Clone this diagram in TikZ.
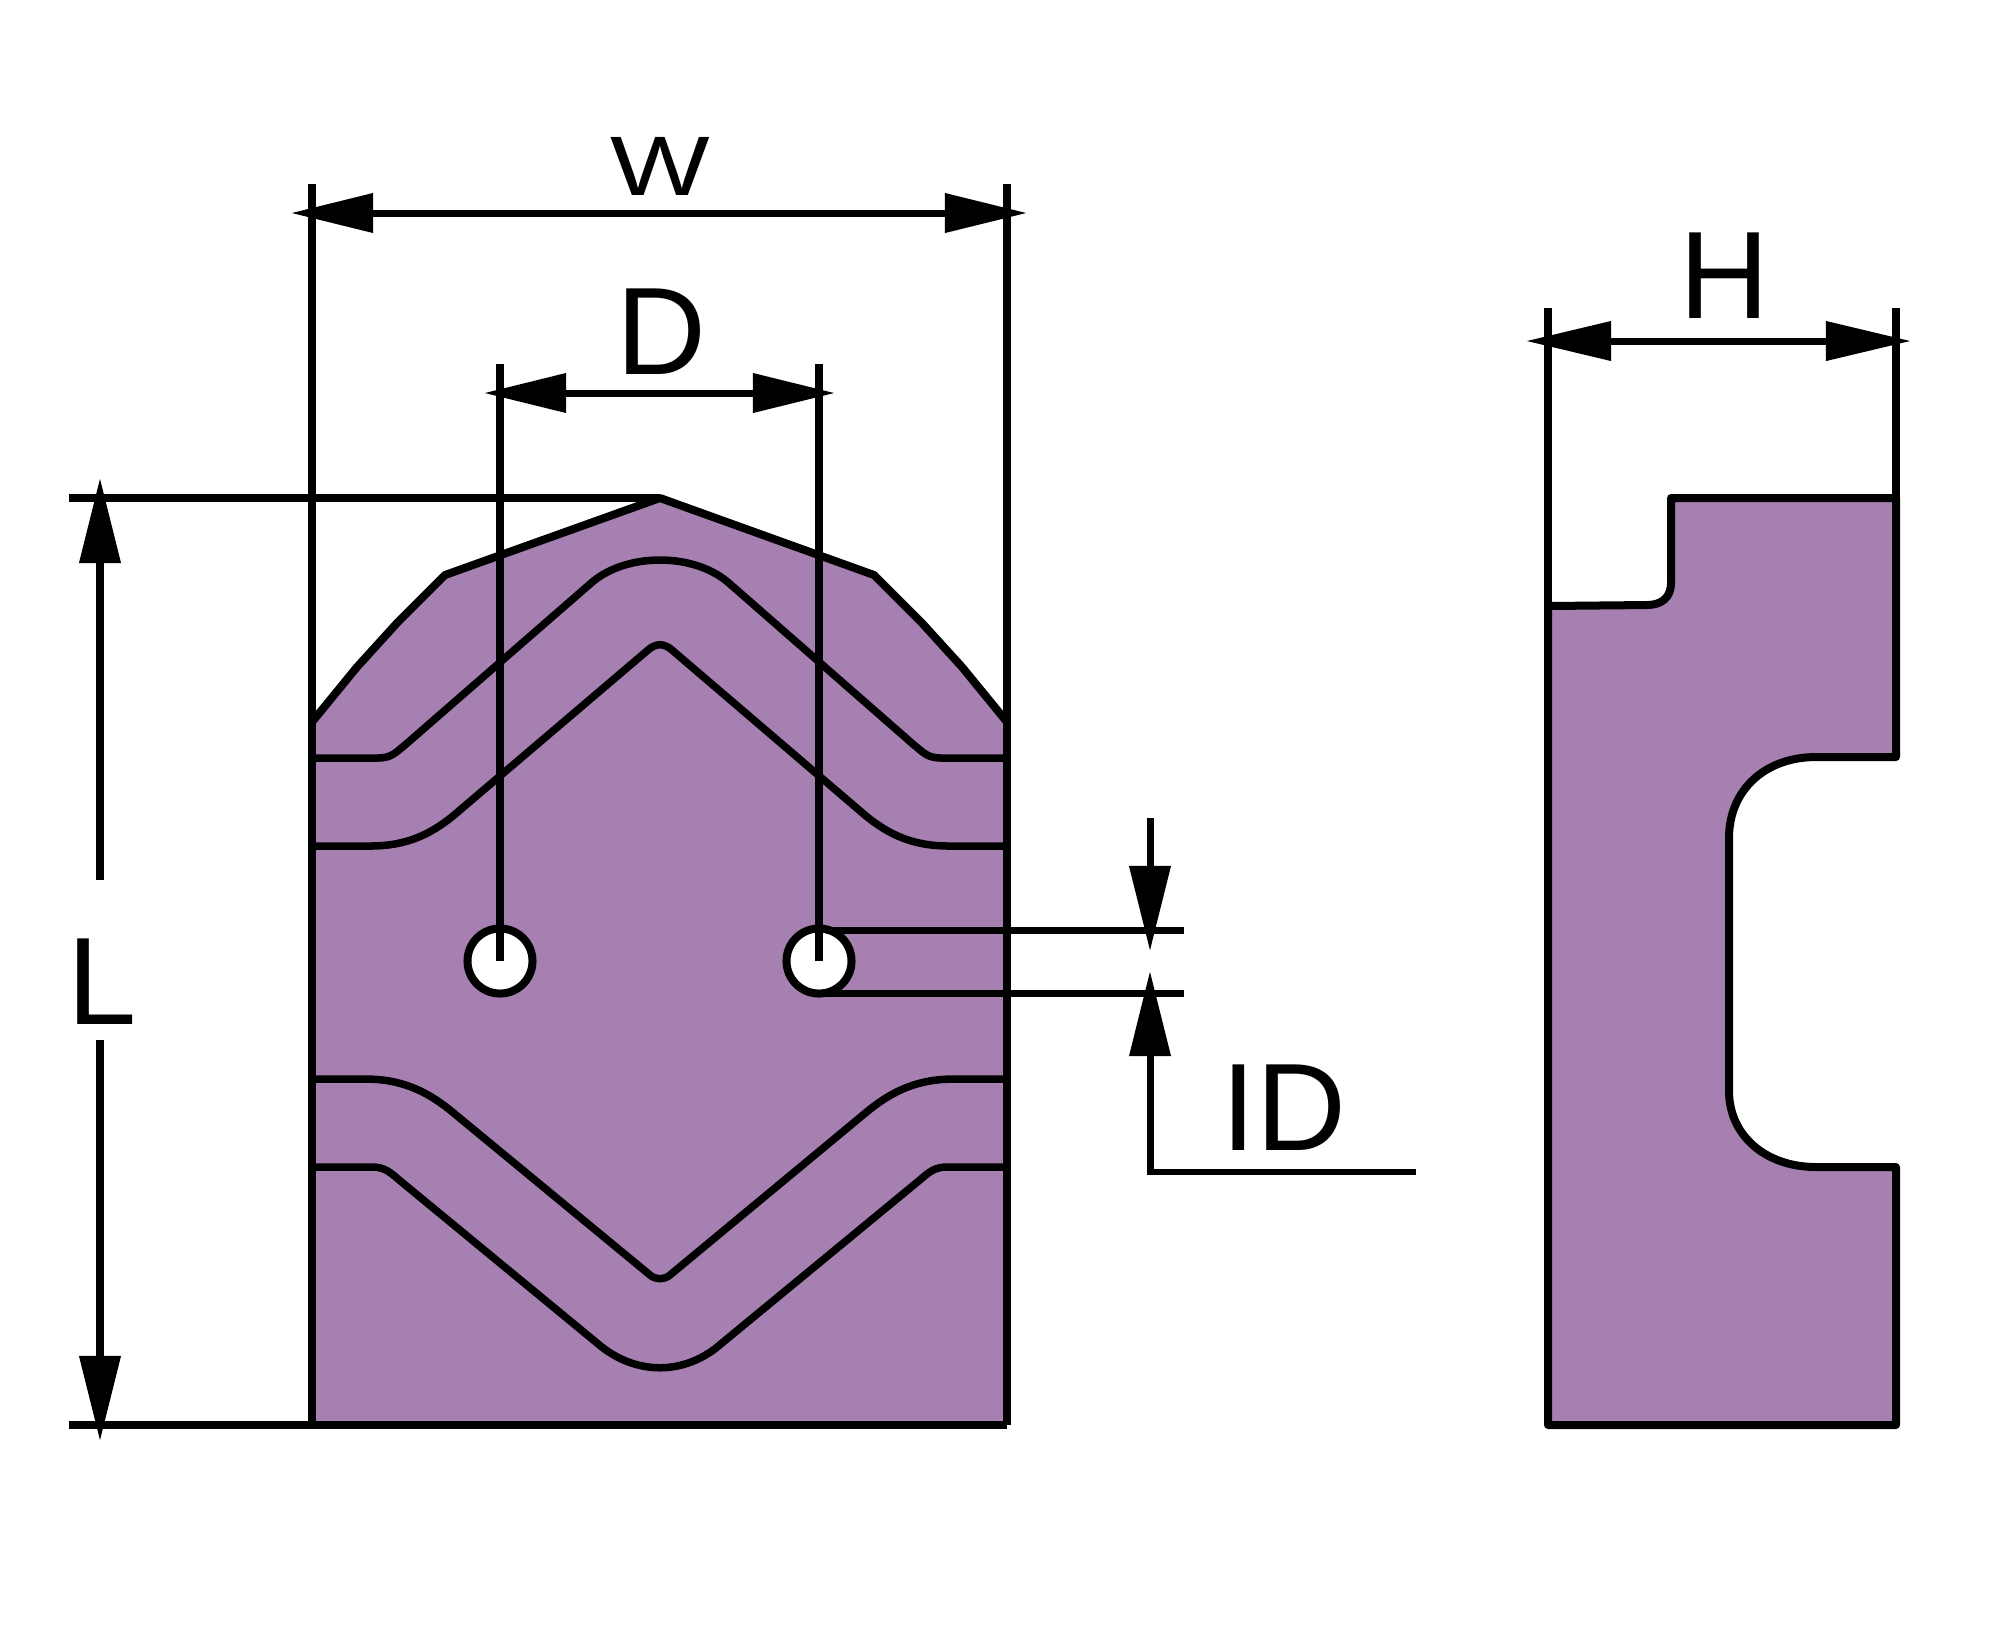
\documentclass[tikz,border=0pt]{standalone}
\usepackage{fontspec}
\setmainfont{Liberation Sans}
\usetikzlibrary{arrows.meta}
\definecolor{body}{RGB}{165,128,176}
\tikzset{
  outline/.style={line width=0.08cm,line join=round},
  band/.style={line width=0.075cm,line join=round},
  dimline/.style={line width=0.07cm},
  thinline/.style={line width=0.06cm},
  tipa/.style={-{Triangle[length=0.85cm,width=0.40cm]}},
  tipb/.style={{Triangle[length=0.85cm,width=0.38cm]}-{Triangle[length=0.85cm,width=0.38cm]}},
  tipc/.style={{Triangle[length=0.82cm,width=0.38cm]}-{Triangle[length=0.82cm,width=0.38cm]}},
  label/.style={inner sep=0pt,outer sep=0pt,font=\fontsize{35.4}{36}\selectfont},
}
\begin{document}
\begin{tikzpicture}[x=0.01cm,y=-0.01cm]
\path[use as bounding box,fill=white] (0,0) rectangle (2000,1647);

% ---- key points
\coordinate (apex) at (660,498);
\coordinate (blL) at (312,1425);
\coordinate (blR) at (1007,1425);
\coordinate (holeL) at (500,961);
\coordinate (holeR) at (819,961);

% ---- front view body
\path[fill=body] (312,722) -- (357,667) -- (397,623) -- (445,575) -- (apex) -- (874,575) -- (922,623) -- (962,667) -- (1007,722) -- (blR) -- (blL) -- cycle;

% ---- bands
\draw[band] (312,758) -- (378,758) .. controls (392,758) and (396,752) .. (405,745)
  -- (590,584) .. controls (625,552) and (695,552) .. (730,584)
  -- (914,745) .. controls (923,752) and (927,758) .. (941,758) -- (1007,758);
\draw[band] (312,846) -- (370,846) .. controls (410,846) and (435,832) .. (460,810)
  -- (648,650) .. controls (656,643) and (664,643) .. (672,650)
  -- (859,810) .. controls (884,832) and (909,846) .. (949,846) -- (1007,846);
\draw[band] (312,1079) -- (365,1079) .. controls (400,1079) and (425,1090) .. (450,1110)
  -- (650,1275) .. controls (656,1280) and (664,1280) .. (670,1275)
  -- (869,1110) .. controls (894,1090) and (919,1079) .. (954,1079) -- (1007,1079);
\draw[band] (312,1167) -- (372,1167) .. controls (384,1167) and (390,1172) .. (398,1179)
  -- (597,1343) .. controls (635,1376) and (685,1376) .. (722,1343)
  -- (921,1179) .. controls (929,1172) and (935,1167) .. (947,1167) -- (1007,1167);

% ---- front view outline
\draw[outline] (312,722) -- (357,667) -- (397,623) -- (445,575) -- (apex) -- (874,575) -- (922,623) -- (962,667) -- (1007,722);

% ---- extension lines
\coordinate (wLt) at (312,184);
\coordinate (wRt) at (1007,184);
\draw[outline] (wLt) -- (blL);
\draw[outline] (wRt) -- (blR);
\coordinate (Ltop) at (69,498);
\coordinate (Lbot) at (69,1425);
\draw[outline] (Ltop) -- (apex);
\draw[outline] (Lbot) -- (blR);

% ---- holes
\node[circle,draw,fill=white,line width=0.08cm,minimum size=0.65cm,inner sep=0pt] (hL) at (holeL) {};
\node[circle,draw,fill=white,line width=0.08cm,minimum size=0.65cm,inner sep=0pt] (hR) at (holeR) {};
\coordinate (dLt) at (500,364);
\coordinate (dRt) at (819,364);
\draw[outline] (dLt) -- (holeL);
\draw[outline] (dRt) -- (holeR);

% ---- ID extension lines
\coordinate (idA) at (826,930);
\coordinate (idB) at (826,993);
\coordinate (idAe) at (1184,930);
\coordinate (idBe) at (1184,993);
\draw[dimline] (idA) -- (idAe);
\draw[dimline] (idB) -- (idBe);

% ---- width dimension
\coordinate (wL) at (291,213);
\coordinate (wR) at (1027,213);
\draw[dimline,tipc] (wL) -- (wR);
\node[label,font=\fontsize{24}{25}\selectfont] (lW) at (660,166) {\scalebox{1.25}[1]{W}};

% ---- D dimension
\coordinate (dL) at (484,393);
\coordinate (dR) at (835,393);
\draw[dimline,tipc] (dL) -- (dR);
\node[label] (lD) at (661,332) {D};

% ---- L dimension
\coordinate (Lat) at (100,478);
\coordinate (Las) at (100,880);
\coordinate (Lbt) at (100,1441);
\coordinate (Lbs) at (100,1040);
\draw[dimline,tipa] (Las) -- (Lat);
\draw[dimline,tipa] (Lbs) -- (Lbt);
\node[label] (lL) at (102,982) {L};

% ---- ID dimension
\coordinate (ia) at (1150,818);
\coordinate (iat) at (1150,951);
\coordinate (ibt) at (1150,971);
\coordinate (ic) at (1150,1172);
\coordinate (id) at (1416,1172);
\draw[dimline,tipa] (ia) -- (iat);
\draw[dimline,tipa] (ic) -- (ibt);
\draw[thinline] (ic) ++(-3,0) -- (id);
\node[label] (lID) at (1284,1108) {ID};

% ---- side view
\path[fill=body] (1548,606) -- (1647,605) .. controls (1662,605) and (1671,597) .. (1671,583)
  -- (1671,498) -- (1896,498) -- (1896,757) -- (1816,757)
  .. controls (1765,757) and (1729,790) .. (1729,838)
  -- (1729,1091) .. controls (1729,1135) and (1765,1167) .. (1816,1167)
  -- (1896,1167) -- (1896,1425) -- (1548,1425) -- cycle;
\draw[outline] (1548,606) -- (1647,605) .. controls (1662,605) and (1671,597) .. (1671,583)
  -- (1671,498) -- (1896,498) -- (1896,757) -- (1816,757)
  .. controls (1765,757) and (1729,790) .. (1729,838)
  -- (1729,1091) .. controls (1729,1135) and (1765,1167) .. (1816,1167)
  -- (1896,1167) -- (1896,1425) -- (1548,1425) -- cycle;
\coordinate (hLt) at (1548,308);
\coordinate (hRt) at (1896,308);
\coordinate (hLb) at (1548,606);
\coordinate (hRb) at (1896,498);
\draw[outline] (hLt) -- (hLb);
\draw[outline] (hRt) -- (hRb);
\coordinate (hL2) at (1526,341);
\coordinate (hR2) at (1911,341);
\draw[dimline,tipb] (hL2) -- (hR2);
\node[label] (lH) at (1724,276) {H};
\end{tikzpicture}
\end{document}
